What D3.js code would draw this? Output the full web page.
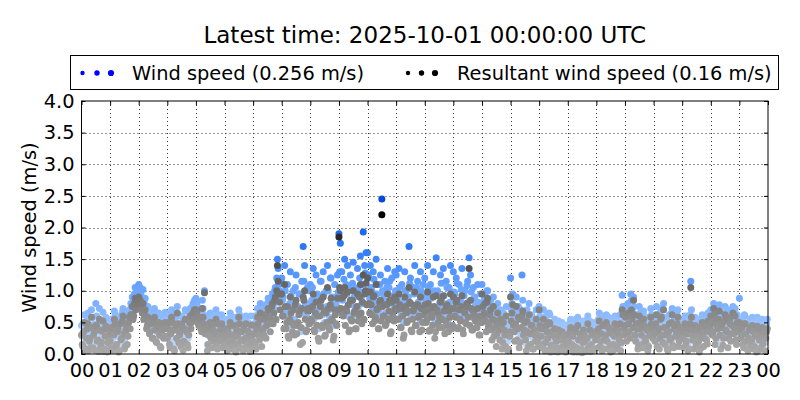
<!DOCTYPE html>
<html>
<head>
<meta charset="utf-8">
<script src="https://cdn.jsdelivr.net/npm/d3@7"></script>
<style>
  html, body { margin: 0; padding: 0; background: #fff; }
  svg { display: block; font-family: "DejaVu Sans", sans-serif; }
</style>
</head>
<body>
<svg id="chart" width="800" height="400"></svg>
<script>
// ---------------- data ----------------
const titleText = "Latest time: 2025-10-01 00:00:00 UTC";
const seriesNames = ["Wind speed (0.256 m/s)", "Resultant wind speed (0.16 m/s)"];
const yLabel = "Wind speed (m/s)";
const yTickValues = [0.0, 0.5, 1.0, 1.5, 2.0, 2.5, 3.0, 3.5, 4.0];
const hourTicks = ["00","01","02","03","04","05","06","07","08","09","10","11","12","13","14","15","16","17","18","19","20","21","22","23","00"];
const startTime = "2025-09-30T00:00:00Z";
const sampleMinutes = 3;      // spacing inside each array
const offsetMinutesB = 1.5;   // the "_b" arrays sit half-way between the "_a" samples

// wind speed, hundredths of m/s, samples at hh:00, hh:03, ... (20 per hour, one row per hour)
const windSpeed_a = [
  45,30,62,20,55,12,38,70,25,48,80,35,15,52,40,66,22,58,10,44,
  35,55,18,68,28,48,10,60,40,72,22,50,30,65,58,75,65,95,85,100,
  110,105,90,102,80,72,62,68,55,60,45,72,38,58,65,30,50,62,42,55,
  40,62,25,70,50,15,58,75,35,48,60,20,55,68,30,45,72,62,80,85,
  88,75,60,70,50,72,100,58,15,45,65,25,55,40,70,20,50,35,62,45,
  30,55,12,45,65,20,38,58,8,42,70,25,50,15,35,60,22,48,10,40,
  35,60,20,72,45,80,28,55,68,40,75,85,50,90,62,100,70,150,110,85,
  120,90,140,65,110,45,130,80,100,55,125,70,95,35,115,170,140,60,105,75,
  110,85,135,60,125,95,40,115,75,130,50,100,140,70,120,90,45,110,80,125,
  190,175,130,95,150,110,140,60,125,85,145,105,70,135,100,155,80,193,140,160,
  160,120,140,100,130,85,150,110,70,125,245,95,115,80,135,105,60,120,90,130,
  125,90,135,70,110,50,130,100,85,170,120,60,105,140,75,115,95,130,65,110,
  120,85,140,65,110,95,130,50,152,100,75,125,90,135,60,115,80,105,140,70,
  130,95,120,70,110,85,135,60,100,80,115,152,125,65,105,90,75,110,55,95,
  110,75,95,50,100,65,85,40,90,60,30,80,55,70,25,65,45,75,20,50,
  120,80,60,35,90,55,25,70,125,45,65,15,50,80,30,60,20,45,70,35,
  75,55,30,70,15,60,40,65,10,50,25,55,35,8,45,20,50,12,30,40,
  45,20,55,30,10,48,25,58,15,40,5,52,35,18,60,28,12,45,22,50,
  50,25,65,35,15,58,40,62,20,55,10,45,30,60,22,52,38,15,93,45,
  60,35,80,50,95,70,90,45,62,20,75,55,30,68,40,58,15,50,72,55,
  60,35,75,50,20,68,45,80,30,55,15,62,40,72,25,58,48,70,35,55,
  50,25,60,35,15,55,115,45,20,58,30,50,10,42,62,28,55,38,65,48,
  70,45,80,30,65,55,78,20,60,40,75,50,25,68,35,58,48,72,30,55,
  88,40,55,25,60,35,15,50,30,58,20,45,10,52,38,25,55,42,18,48
];
// wind speed, hundredths of m/s, samples at hh:01.5, hh:04.5, ...
const windSpeed_b = [
  28,50,15,40,65,33,22,58,45,18,60,38,72,26,50,12,42,55,30,20,
  50,22,45,62,30,55,15,38,66,48,25,58,42,70,80,90,78,105,92,98,
  100,95,85,70,88,58,75,50,64,42,68,52,35,60,48,28,56,40,66,45,
  55,30,48,65,20,52,40,62,45,28,58,36,70,50,25,65,55,75,68,78,
  80,65,72,55,85,62,48,52,30,58,40,60,35,48,28,62,42,55,25,38,
  42,25,50,35,58,28,45,18,52,30,62,38,20,55,40,28,50,35,60,25,
  48,30,55,62,38,70,52,45,78,60,88,72,65,95,80,105,120,135,100,115,
  85,60,100,72,48,80,92,55,70,105,50,75,95,65,40,115,80,60,100,72,
  80,105,55,90,70,42,85,115,62,95,50,75,100,58,120,78,48,90,68,98,
  130,95,85,118,68,95,105,58,78,112,90,62,100,75,120,88,110,80,128,100,
  125,88,105,72,118,80,95,62,110,75,100,85,65,105,80,115,58,92,75,100,
  95,75,105,62,82,50,100,70,90,112,58,78,95,68,105,82,55,100,72,88,
  92,75,105,58,88,68,100,55,98,72,82,112,62,92,75,105,55,82,98,68,
  98,82,112,62,78,102,55,92,72,108,82,68,98,58,88,78,62,82,50,72,
  95,85,70,100,60,80,55,75,45,70,50,65,40,60,35,55,30,50,25,45,
  70,95,50,65,40,75,35,60,85,55,40,70,30,50,62,25,55,38,48,28,
  60,45,25,55,35,50,20,62,30,45,15,40,25,52,18,38,28,45,12,35,
  35,50,18,42,28,55,12,38,48,22,32,45,15,40,25,52,30,20,48,38,
  40,55,28,48,60,22,45,35,58,30,50,18,42,55,28,48,62,32,75,55,
  75,48,62,40,85,58,75,35,55,30,65,45,25,60,35,52,28,45,62,40,
  48,62,28,55,40,72,35,58,45,22,50,38,65,30,55,42,62,28,50,45,
  40,55,30,48,22,62,70,38,52,28,45,35,55,25,48,40,60,32,50,58,
  62,50,72,40,58,68,45,55,30,65,52,70,40,60,48,75,55,38,62,50,
  55,45,30,62,48,22,40,55,35,50,28,42,58,20,45,52,32,48,40,55
];

// resultant wind speed, hundredths of m/s, same timestamps as windSpeed_a
const resultant_a = [
  30,12,50,8,40,5,25,58,10,35,45,20,4,38,18,52,8,44,3,30,
  20,42,6,55,12,35,3,48,25,60,8,38,15,50,40,62,55,80,70,85,
  90,85,70,80,62,55,45,50,35,48,25,58,20,42,50,12,35,48,28,40,
  25,50,10,58,38,5,45,65,18,35,48,6,40,55,15,30,60,50,65,70,
  70,60,45,55,35,58,97,40,5,30,50,10,38,25,55,8,35,20,48,30,
  15,40,5,30,50,8,22,45,3,28,58,10,35,5,20,48,8,32,4,25,
  20,45,8,58,30,65,12,40,55,25,60,70,35,75,48,85,55,140,95,70,
  95,60,110,40,75,25,90,50,70,30,85,45,62,15,72,90,100,35,68,48,
  70,52,95,35,82,60,20,75,45,90,28,65,105,42,78,55,22,70,48,88,
  185,100,88,60,105,72,98,35,85,52,100,68,40,95,62,110,48,125,95,112,
  120,80,98,62,90,52,110,72,40,85,220,60,78,48,95,68,32,82,58,90,
  85,55,95,42,72,25,90,65,52,105,80,35,68,98,45,78,60,90,38,72,
  78,50,98,36,70,58,90,25,92,65,42,82,55,92,32,75,45,68,95,40,
  90,60,82,40,70,52,92,32,65,48,75,135,85,38,68,55,42,72,30,60,
  95,60,80,35,88,48,70,22,75,42,12,65,38,55,8,50,30,60,5,35,
  90,65,45,20,75,40,10,55,60,30,50,5,35,62,15,45,8,30,55,20,
  70,40,15,55,5,45,25,50,3,35,10,40,20,3,30,8,35,5,15,25,
  30,8,42,15,3,35,10,45,5,25,2,38,20,6,48,12,4,30,8,35,
  35,10,52,20,5,45,25,50,8,40,3,32,15,48,8,38,22,5,70,30,
  45,20,65,35,60,55,85,30,48,8,60,40,15,55,25,42,5,35,58,40,
  45,20,62,35,8,55,30,70,15,40,5,48,25,62,10,45,35,58,20,42,
  35,10,48,20,5,40,105,30,8,45,15,38,3,28,50,12,42,22,52,35,
  60,30,72,15,55,40,68,8,48,25,62,35,10,55,20,45,32,60,15,40,
  50,25,42,10,48,20,5,38,15,45,8,30,3,40,22,10,42,28,5,35
];
// resultant wind speed, hundredths of m/s, same timestamps as windSpeed_b
const resultant_b = [
  15,35,5,25,48,20,10,42,30,6,45,22,55,12,36,4,28,40,18,8,
  35,10,30,48,15,40,5,22,52,32,12,45,28,58,62,75,60,88,78,82,
  82,78,65,55,70,40,58,32,48,25,52,38,18,45,30,10,40,25,50,28,
  40,15,32,50,8,38,25,48,30,12,42,20,55,35,10,50,40,62,55,66,
  66,50,58,40,72,48,32,38,15,42,25,45,20,32,12,48,28,40,10,22,
  28,12,35,20,45,14,30,6,38,16,48,22,8,40,25,12,36,18,46,10,
  32,15,40,48,22,55,38,30,62,45,72,56,48,80,65,90,100,115,82,95,
  60,40,75,50,28,55,65,35,45,78,32,50,68,42,18,85,55,38,72,48,
  55,75,38,65,45,25,60,85,42,68,30,50,72,38,88,52,28,62,45,70,
  105,72,62,92,45,68,78,38,55,85,65,40,75,52,90,65,82,55,100,78,
  98,65,78,48,92,58,70,40,82,52,75,60,45,78,55,85,35,65,52,72,
  70,55,78,42,60,30,75,50,68,82,38,55,72,45,78,58,35,72,50,62,
  68,55,80,38,62,45,75,35,70,50,58,85,42,68,52,78,35,58,72,45,
  72,58,85,42,55,75,38,68,50,80,58,45,72,38,62,52,42,58,30,50,
  75,65,52,82,42,62,38,55,28,52,32,48,22,42,18,38,12,32,8,28,
  52,78,35,48,22,58,18,42,68,38,22,52,12,32,45,8,38,20,30,12,
  45,28,10,40,18,35,6,48,14,30,4,25,10,38,5,22,12,30,3,18,
  20,35,5,28,12,40,3,22,32,8,18,30,4,25,10,38,15,6,32,22,
  25,40,12,32,45,8,30,20,42,14,36,5,28,40,12,32,48,18,62,40,
  58,32,48,25,70,42,62,20,40,14,50,30,10,45,20,38,12,30,48,25,
  32,48,12,40,25,58,18,42,30,8,35,22,50,14,40,28,48,12,35,30,
  25,40,14,32,8,48,58,22,38,12,30,20,42,10,32,25,46,16,36,44,
  50,35,62,25,45,55,30,42,14,52,38,58,25,48,32,65,42,22,50,35,
  40,30,15,48,32,8,25,42,20,36,12,28,44,6,30,38,16,34,25,40
];

// ---------------- layout ----------------
const svg = d3.select("#chart");
const plot = { left: 81.5, right: 768, top: 101, bottom: 354 };
const t0 = new Date(startTime);
const t1 = d3.utcDay.offset(t0, 1);

const x = d3.scaleUtc().domain([t0, t1]).range([plot.left, plot.right]);
const y = d3.scaleLinear().domain([0, 4]).range([plot.bottom, plot.top]);

const blueColor = d3.scaleLinear()
  .domain([0, 0.6, 1.2, 1.8, 2.5])
  .range(["#cddfff", "#8dbbff", "#5b9bff", "#2470f2", "#0046d8"])
  .clamp(true);
const greyColor = d3.scaleLinear()
  .domain([0, 0.6, 1.2, 1.8, 2.2])
  .range(["#ababab", "#8a8a8a", "#5f5f5f", "#303030", "#000000"])
  .clamp(true);

const hourDates = hourTicks.map((_, i) => d3.utcHour.offset(t0, i));
function toPoints(a, b) {
  const pts = [];
  a.forEach((v, i) => pts.push({ t: new Date(+t0 + i * sampleMinutes * 60000), v: v / 100 }));
  b.forEach((v, i) => pts.push({ t: new Date(+t0 + (i * sampleMinutes + offsetMinutesB) * 60000), v: v / 100 }));
  return pts.sort((p, q) => p.t - q.t);
}

// ---------------- title ----------------
svg.append("text")
  .attr("x", (plot.left + plot.right) / 2)
  .attr("y", 43)
  .attr("text-anchor", "middle")
  .attr("font-size", 23)
  .attr("fill", "#000")
  .text(titleText);

// ---------------- grid ----------------
const gridG = svg.append("g")
  .attr("stroke", "#000")
  .attr("stroke-width", 1)
  .attr("stroke-dasharray", "1,3")
  .attr("opacity", 0.8);
gridG.selectAll("line.gx")
  .data(hourDates.slice(1, -1))
  .join("line")
  .attr("x1", d => Math.round(x(d)) + 0.5)
  .attr("x2", d => Math.round(x(d)) + 0.5)
  .attr("y1", plot.top)
  .attr("y2", plot.bottom);
gridG.selectAll("line.gy")
  .data(yTickValues.slice(1, -1))
  .join("line")
  .attr("x1", plot.left)
  .attr("x2", plot.right)
  .attr("y1", d => Math.round(y(d)) + 0.5)
  .attr("y2", d => Math.round(y(d)) + 0.5);

// ---------------- points ----------------
const r = 3.5;
svg.append("g").selectAll("circle")
  .data(toPoints(windSpeed_a, windSpeed_b))
  .join("circle")
  .attr("cx", d => x(d.t))
  .attr("cy", d => y(d.v))
  .attr("r", r)
  .attr("fill", d => blueColor(d.v));

svg.append("g").selectAll("circle")
  .data(toPoints(resultant_a, resultant_b))
  .join("circle")
  .attr("cx", d => x(d.t))
  .attr("cy", d => y(d.v))
  .attr("r", r)
  .attr("fill", d => greyColor(d.v));

// ---------------- axes ----------------
const fmtHour = (d, i) => hourTicks[i];
const yFmt = d3.format(".1f");

const xAxis = d3.axisBottom(x).tickValues(hourDates).tickFormat(fmtHour).tickSize(-4).tickPadding(9);
const xAxisTop = d3.axisTop(x).tickValues(hourDates).tickFormat("").tickSize(-4);
const yAxis = d3.axisLeft(y).tickValues(yTickValues).tickFormat(yFmt).tickSize(-4).tickPadding(7);
const yAxisRight = d3.axisRight(y).tickValues(yTickValues).tickFormat("").tickSize(-4);

function styleAxis(g) {
  g.select(".domain").remove();
  g.selectAll(".tick line").attr("stroke", "#000");
  g.selectAll("text").attr("font-size", 19.4).attr("fill", "#000").attr("font-family", "DejaVu Sans, sans-serif");
}
svg.append("g").attr("transform", `translate(0,${plot.bottom})`).call(xAxis).call(styleAxis);
svg.append("g").attr("transform", `translate(0,${plot.top})`).call(xAxisTop).call(styleAxis);
svg.append("g").attr("transform", `translate(${plot.left},0)`).call(yAxis).call(styleAxis);
svg.append("g").attr("transform", `translate(${plot.right},0)`).call(yAxisRight).call(styleAxis);

// frame
svg.append("rect")
  .attr("x", plot.left).attr("y", plot.top)
  .attr("width", plot.right - plot.left).attr("height", plot.bottom - plot.top)
  .attr("fill", "none").attr("stroke", "#000").attr("stroke-width", 1);

// y label
svg.append("text")
  .attr("transform", `translate(36,${(plot.top + plot.bottom) / 2}) rotate(-90)`)
  .attr("text-anchor", "middle")
  .attr("font-size", 19.4)
  .attr("fill", "#000")
  .text(yLabel);

// ---------------- legend ----------------
const lg = svg.append("g");
lg.append("rect")
  .attr("x", 70.5).attr("y", 55.5).attr("width", 708).attr("height", 34)
  .attr("fill", "#fff").attr("stroke", "#000").attr("stroke-width", 1);
const legendItems = [
  { name: seriesNames[0], color: "#0000ff", dotX: [82.5, 97, 111], textX: 132 },
  { name: seriesNames[1], color: "#000000", dotX: [408, 421.5, 435], textX: 457 }
];
const dotR = [2.2, 2.7, 3.1];
legendItems.forEach(item => {
  lg.selectAll(null).data(item.dotX).join("circle")
    .attr("cx", d => d).attr("cy", 73).attr("r", (d, i) => dotR[i]).attr("fill", item.color);
  lg.append("text").attr("x", item.textX).attr("y", 79.5)
    .attr("font-size", 19.4).attr("fill", "#000").text(item.name);
});
</script>
</body>
</html>
